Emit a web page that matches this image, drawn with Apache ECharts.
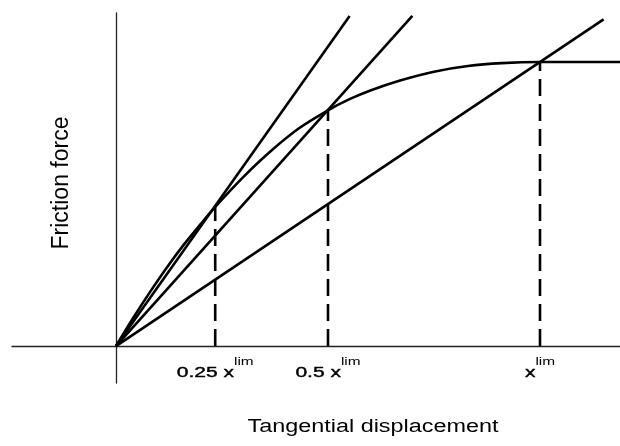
<!DOCTYPE html>
<html>
<head>
<meta charset="utf-8">
<script src="https://cdn.jsdelivr.net/npm/echarts@6/dist/echarts.min.js"></script>
<style>
  html, body { margin: 0; padding: 0; background: #fff; }
  #chart { width: 620px; height: 446px; }
</style>
</head>
<body>
<div id="chart"></div>
<script>
// displacement in units of x_lim, force in units of the limit friction force
var curveX = [0, 0.04, 0.08, 0.12, 0.16, 0.2, 0.234, 0.3, 0.36, 0.43, 0.5, 0.552, 0.6, 0.67, 0.75, 0.83, 0.91, 1.0, 1.189];
var curveY = [0, 0.098, 0.19, 0.277, 0.357, 0.43, 0.49, 0.595, 0.68, 0.765, 0.83, 0.87, 0.9, 0.935, 0.966, 0.986, 0.996, 1.0, 1.0];

// secant lines from the origin, end points where they leave the picture
var secantEnds = [[0.551, 1.162], [0.699, 1.162], [1.15, 1.15]];

// dashed markers: position on x and height where they meet the curve
var markX = [0.234, 0.5, 1.0];
var markY = [0.49, 0.83, 1.0];
var markLabels = ['0.25 x', '0.5 x', 'x'];
var markSup = 'lim';

var font = 'Liberation Sans';
var ink = '#000';

var chart = echarts.init(document.getElementById('chart'));

var series = [];

series.push({
    type: 'line',
    data: curveX.map(function (x, i) { return [x, curveY[i]]; }),
    smooth: 0.3,
    symbol: 'none',
    lineStyle: { color: ink, width: 2.6 },
    silent: true,
    animation: false
});

secantEnds.forEach(function (p) {
    series.push({
        type: 'line',
        data: [[0, 0], p],
        symbol: 'none',
        lineStyle: { color: ink, width: 2.6 },
        silent: true,
        animation: false
    });
});

markX.forEach(function (x, i) {
    series.push({
        type: 'line',
        data: [[x, 0], [x, markY[i]]],
        symbol: 'none',
        lineStyle: { color: ink, width: 2.6, type: [17, 8] },
        silent: true,
        animation: false
    });
});

var option = {
    backgroundColor: '#ffffff',
    grid: { left: 12, right: 0, top: 13, bottom: 63 },
    xAxis: {
        type: 'value',
        min: -0.2453,
        max: 1.1887,
        axisLine: { onZero: true, lineStyle: { color: '#222', width: 1.3 } },
        axisTick: { show: false },
        axisLabel: { show: false },
        splitLine: { show: false }
    },
    yAxis: {
        type: 'value',
        min: -0.130,
        max: 1.1725,
        axisLine: { show: true, onZero: true, lineStyle: { color: '#222', width: 1.3 } },
        axisTick: { show: false },
        axisLabel: { show: false },
        splitLine: { show: false }
    },
    series: series
};

chart.setOption(option);

// axis titles and marker labels; the scan is stretched sideways, hence scaleX
var graphics = [
    {
        type: 'text',
        x: 373,
        y: 427,
        scaleX: 1.3,
        style: { text: 'Tangential displacement', font: '18px "' + font + '"', fill: ink, textAlign: 'center', textVerticalAlign: 'middle' }
    },
    {
        type: 'text',
        x: 62,
        y: 183,
        rotation: Math.PI / 2,
        style: { text: 'Friction force', font: '23px "' + font + '"', fill: ink, textAlign: 'center', textVerticalAlign: 'middle' }
    }
];

markX.forEach(function (x, i) {
    var pt = chart.convertToPixel({ gridIndex: 0 }, [x, 0]);
    graphics.push({
        type: 'text',
        x: pt[0],
        y: pt[1] + 10,
        scaleX: 1.4,
        style: {
            text: '{a|' + markLabels[i] + '}{s|' + markSup + '}',
            textAlign: 'center',
            textVerticalAlign: 'top',
            rich: {
                a: { fontFamily: font, fontSize: 15, fill: ink, stroke: ink, lineWidth: 0.4, verticalAlign: 'bottom', lineHeight: 24 },
                s: { fontFamily: font, fontSize: 11, fill: ink, verticalAlign: 'top', lineHeight: 24, padding: [0, 0, 10, 0] }
            }
        }
    });
});

chart.setOption({ graphic: graphics });
</script>
</body>
</html>
